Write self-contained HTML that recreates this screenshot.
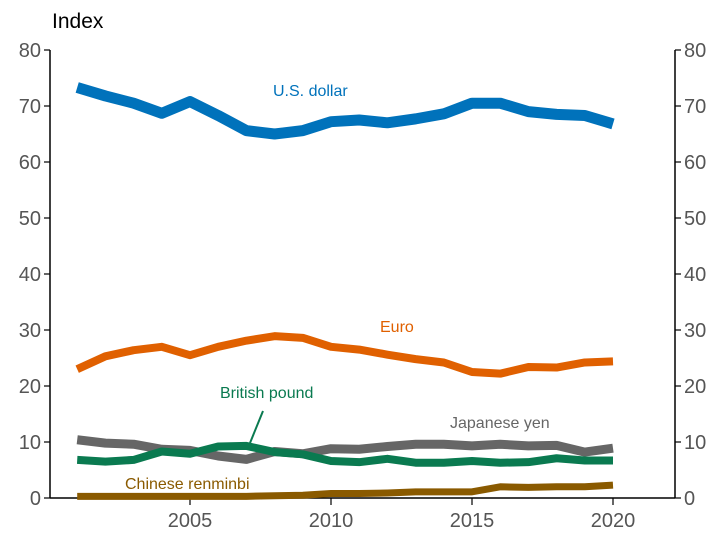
<!DOCTYPE html>
<html><head><meta charset="utf-8"><style>
body{margin:0;background:#fff}
svg{display:block;font-family:"Liberation Sans",Arial,sans-serif}
</style></head><body>
<svg id="c" width="725" height="544"></svg>
<script>
const years=[2001,2002,2003,2004,2005,2006,2007,2008,2009,2010,2011,2012,2013,2014,2015,2016,2017,2018,2019,2020];
const usd=[73.3,71.8,70.5,68.7,70.8,68.3,65.6,65.0,65.6,67.2,67.5,67.0,67.7,68.6,70.5,70.5,69.0,68.5,68.3,66.8];
const euro=[23,25.3,26.4,27,25.5,27,28.1,28.9,28.6,27,26.5,25.6,24.8,24.2,22.5,22.2,23.4,23.3,24.2,24.4];
const yen=[10.4,9.8,9.6,8.7,8.5,7.5,6.9,8.3,7.9,8.8,8.7,9.2,9.6,9.6,9.3,9.6,9.3,9.4,8.2,8.9];
const gbp=[6.8,6.5,6.8,8.3,7.9,9.2,9.3,8.2,7.8,6.6,6.4,7.0,6.3,6.3,6.6,6.3,6.4,7.1,6.7,6.7];
const cny=[0.3,0.3,0.3,0.3,0.3,0.3,0.3,0.4,0.5,0.8,0.8,0.9,1.1,1.1,1.1,2.0,1.9,2.0,2.0,2.3];
const yTicks=[0,10,20,30,40,50,60,70,80];
const xTicks=[2005,2010,2015,2020];
const NS="http://www.w3.org/2000/svg";
const svg=document.getElementById('c');
const X=y=>190+(y-2005)*28.2;
const Y=v=>498-v*5.6;
function el(t,a,txt){const e=document.createElementNS(NS,t);for(const k in a)e.setAttribute(k,a[k]);if(txt!=null)e.textContent=txt;svg.appendChild(e);return e;}
let e;
e=el('line',{x1:50,x2:675,y1:498,y2:498,stroke:'#000','stroke-width':1.5});


e=el('line',{x1:50,x2:50,y1:Y(80),y2:498,stroke:'#000','stroke-width':1.5});


e=el('line',{x1:675,x2:675,y1:Y(80),y2:498,stroke:'#000','stroke-width':1.5});


yTicks.forEach(v=>{
 el('line',{x1:44,x2:50,y1:Y(v),y2:Y(v),stroke:'#000','stroke-width':1.2});
 el('line',{x1:675,x2:681,y1:Y(v),y2:Y(v),stroke:'#000','stroke-width':1.2});
 e=el('text',{x:41,y:Y(v)+7,'text-anchor':'end','font-size':20,fill:'#555'},v);
 
 
 e=el('text',{x:684,y:Y(v)+7,'font-size':20,fill:'#555'},v);
 
 
});
xTicks.forEach(v=>{
 el('line',{x1:X(v),x2:X(v),y1:498,y2:505,stroke:'#000','stroke-width':1.2});
 e=el('text',{x:X(v),y:527,'text-anchor':'middle','font-size':20,fill:'#555'},v);
 
 
});
e=el('text',{x:52,y:28,'font-size':21,fill:'#000'},'Index');


function line(d,c,w,n){
 e=el('polyline',{points:d.map((v,i)=>X(years[i])+','+Y(v)).join(' '),fill:'none',stroke:c,'stroke-width':w,'stroke-linejoin':'round'});
 
 
}
line(cny,'#8a5a00',7,'renminbi-line');
line(yen,'#666666',9,'yen-line');
line(gbp,'#0a7a50',8,'pound-line');
line(euro,'#e06000',8,'euro-line');
line(usd,'#0072bb',11,'dollar-line');
function lab(x,y,t,c,n){e=el('text',{x:x,y:y,'font-size':16,fill:c},t);}
lab(273,96,'U.S. dollar','#0072bb','dollar-label');
lab(380,332,'Euro','#e06000','euro-label');
lab(220,398,'British pound','#0a7a50','pound-label');
lab(450,428,'Japanese yen','#666666','yen-label');
lab(125,489,'Chinese renminbi','#8a5a00','renminbi-label');
e=el('line',{x1:263,y1:411,x2:250,y2:443,stroke:'#0a7a50','stroke-width':2});


</script>
</body></html>
